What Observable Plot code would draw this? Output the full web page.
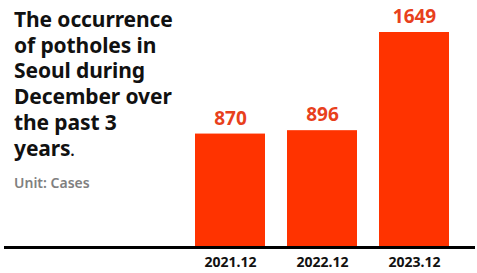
<!DOCTYPE html>
<html>
<head>
<meta charset="utf-8">
<script src="https://cdn.jsdelivr.net/npm/d3@7"></script>
<script src="https://cdn.jsdelivr.net/npm/@observablehq/plot@0.6"></script>
<style>
  html, body { margin: 0; padding: 0; background: #fff; }
  #wrap { position: relative; width: 477px; height: 273px; font-family: "Noto Sans", sans-serif; }
  #title { position: absolute; left: 14px; top: 7px; font-size: 21px; line-height: 25.7px; font-weight: 700; color: #111; margin: 0; letter-spacing: -0.1px; }
  #unit { position: absolute; left: 14px; top: 175.6px; font-size: 14px; line-height: 1; font-weight: 600; color: #808080; margin: 0; }
  #chart { position: absolute; left: 0; top: 0; }
</style>
</head>
<body>
<div id="wrap">
  <div id="chart"></div>
  <div id="title">The occurrence<br>of potholes in<br>Seoul during<br>December over<br>the past 3<br>years<span style="font-size:14px">.</span></div>
  <div id="unit">Unit: Cases</div>
</div>
<script>
const categories = ["2021.12", "2022.12", "2023.12"];
const values = [870, 896, 1649];

const data = categories.map((c, i) => ({period: c, count: values[i]}));

const chart = Plot.plot({
  width: 477,
  height: 273,
  marginLeft: 4,
  marginRight: 2,
  marginTop: 32,
  marginBottom: 26,
  style: {fontFamily: "Noto Sans, sans-serif", background: "transparent"},
  x: {domain: categories, range: [172, 473], padding: 0.237},
  y: {domain: [0, 1649], axis: null},
  marks: [
    Plot.barY(data, {x: "period", y: "count", fill: "#ff3300"}),
    Plot.text(data, {x: "period", y: "count", text: d => String(d.count), dy: -15.5, fill: "#e8401c", fontSize: 19, fontWeight: 700}),
    Plot.ruleY([0], {stroke: "#000", strokeWidth: 3}),
    Plot.axisX({tickSize: 0, tickPadding: 10, fontSize: 14, fontWeight: 700, fill: "#111", label: null, letterSpacing: 0.4})
  ]
});
document.getElementById("chart").appendChild(chart);
</script>
</body>
</html>
